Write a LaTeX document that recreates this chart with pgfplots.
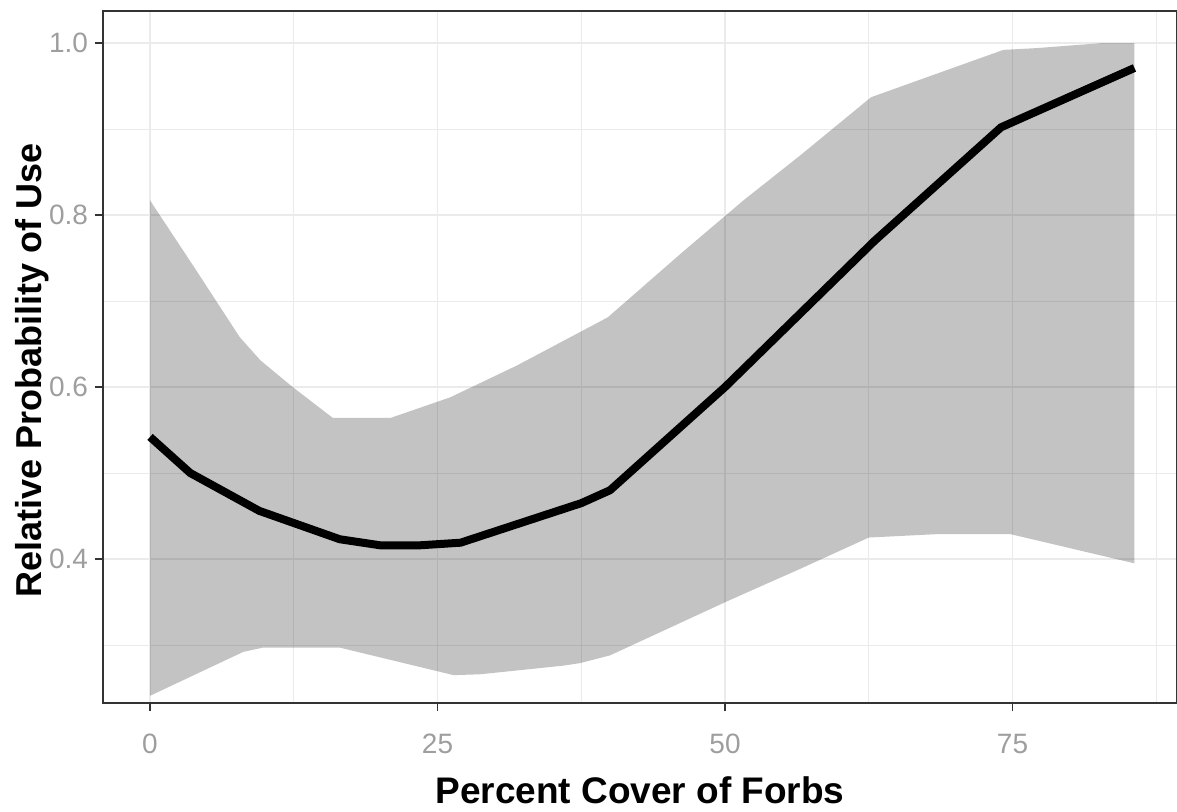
\documentclass[border=0pt]{standalone}
\usepackage{pgfplots}
\pgfplotsset{compat=1.18}
\usepackage{fontspec}
\setmainfont{Liberation Sans}
\definecolor{gridc}{HTML}{EBEBEB}
\definecolor{tickc}{HTML}{9E9E9E}
\definecolor{framec}{HTML}{333333}
\begin{document}
\begin{tikzpicture}
\begin{axis}[
  at={(0,0)}, anchor=south west,
  scale only axis, width=537pt, height=346pt,
  xmin=-4.09, xmax=89.3, ymin=0.2326, ymax=1.0372,
  xtick={0,25,50,75}, ytick={0.4,0.6,0.8,1.0},
  minor xtick={12.5,37.5,62.5,87.5}, minor ytick={0.3,0.5,0.7,0.9},
  grid=both,
  major grid style={draw=gridc, line width=0.8pt},
  minor grid style={draw=gridc, line width=0.45pt},
  axis line style={draw=framec, line width=0.8pt},
  tick align=outside, tick pos=left,
  major tick length=4pt, minor tick length=0pt,
  tick style={draw=framec, line width=0.6pt},
  /pgf/number format/assume math mode=true,
  yticklabel style={/pgf/number format/fixed, /pgf/number format/fixed zerofill, /pgf/number format/precision=1},
  ticklabel style={font=\fontsize{14}{14}\selectfont, text=tickc},
  xticklabel style={yshift=-8pt},
  xlabel={Percent Cover of Forbs},
  ylabel={Relative Probability of Use},
  xlabel style={font=\bfseries\fontsize{18.5}{18.5}\selectfont, at={(axis description cs:0.5,-0.126)}, anchor=center},
  ylabel style={font=\bfseries\fontsize{18}{18}\selectfont, at={(axis description cs:-0.066,0.48)}, anchor=center},
]
\addplot[draw=none, fill=black, fill opacity=0.235] coordinates {
(0,0.817) (4,0.736) (7.8,0.658) (9.6,0.631) (12.4,0.600) (15.9,0.564) (20.9,0.564) (26.1,0.588) (31.9,0.625) (37.4,0.664) (39.8,0.681) (46.4,0.758) (51.6,0.817) (56.6,0.870) (62.7,0.937) (74.2,0.992) (77,0.994) (82.9,1.0) (85.6,1.0)
(85.6,0.395) (74.8,0.429) (68.5,0.429) (62.5,0.425) (56.6,0.389) (50.2,0.351) (40,0.288) (37.4,0.279) (35.9,0.276) (28.7,0.266) (26.4,0.265) (16.5,0.297) (9.8,0.297) (8.1,0.292) (0,0.241)
} -- cycle;
\addplot[draw=black, line width=4pt, line join=round] coordinates {
(0,0.542) (3.5,0.50) (9.5,0.456) (16.5,0.423) (20,0.416) (23.5,0.416) (27,0.419) (37.5,0.465) (40,0.48) (50,0.60) (63,0.77) (74,0.902) (85.6,0.971)
};
\end{axis}
\pgfresetboundingbox
\path[use as bounding box] (-51.5pt,-54pt) rectangle (537pt,351.5pt);
\end{tikzpicture}
\end{document}
